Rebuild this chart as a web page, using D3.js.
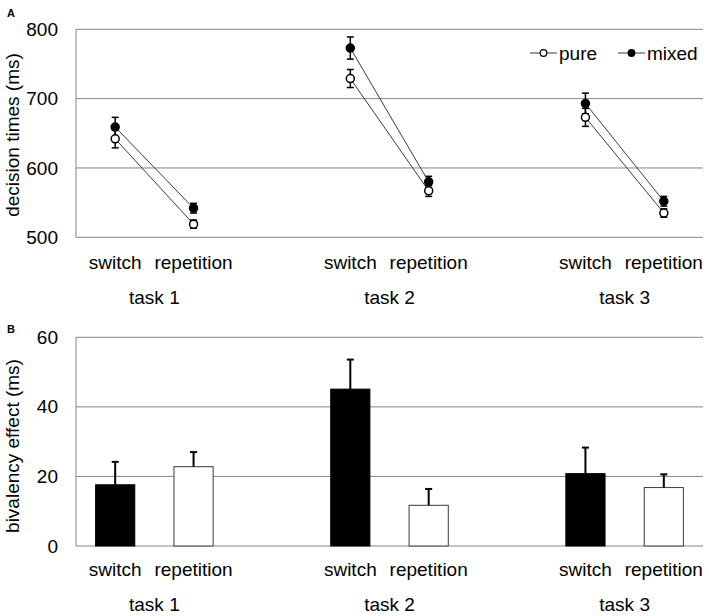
<!DOCTYPE html>
<html>
<head>
<meta charset="utf-8">
<script src="https://cdn.jsdelivr.net/npm/d3@7"></script>
<style>
  html, body { margin: 0; padding: 0; background: #fff; }
  svg { display: block; font-family: "Liberation Sans", Arial, sans-serif; }
</style>
</head>
<body>
<svg id="chart" width="709" height="616"></svg>
<script>
// ---- data ----
const tasks = ["task 1", "task 2", "task 3"];
const conditions = ["switch", "repetition"];
// order: task1 switch, task1 repetition, task2 switch, task2 repetition, task3 switch, task3 repetition
const pureRT = [642, 519, 729, 567, 673, 535];
const pureErr = [13, 6, 13, 8, 13, 6];
const mixedRT = [659, 542, 773, 580, 693, 552];
const mixedErr = [14, 7, 16, 8, 15, 7];
const bivalency = [17.6, 22.8, 45.1, 11.7, 20.8, 16.8];
const bivalencyErr = [6.6, 4.2, 8.5, 4.7, 7.5, 3.8];
const rtTicks = [500, 600, 700, 800];
const effectTicks = [0, 20, 40, 60];
const legendLabels = ["pure", "mixed"];

// ---- layout ----
const svg = d3.select("#chart");
const left = 76, right = 703;
const fontSize = 19;
const gridColor = "#858585";

// slots: each task has switch & repetition, with an empty gap slot between tasks
const slots = [];
tasks.forEach((t, ti) => {
  conditions.forEach(c => slots.push(t + "|" + c));
  if (ti < tasks.length - 1) slots.push("gap" + ti);
});
const x = d3.scaleBand().domain(slots).range([left, right]).padding(0);
const cx = (ti, ci) => x(tasks[ti] + "|" + conditions[ci]) + x.bandwidth() / 2;

const points = [];
tasks.forEach((t, ti) => conditions.forEach((c, ci) => points.push({ti, ci, i: ti * 2 + ci})));

function drawFrame(g, y, ticks, top, bottom, titleText, titleY, labelY, taskY, panelLetter, letterY) {
  // gridlines
  g.append("g").selectAll("line").data(ticks).join("line")
    .attr("x1", left).attr("x2", right)
    .attr("y1", d => y(d)).attr("y2", d => y(d))
    .attr("stroke", gridColor).attr("stroke-width", 1);
  // left axis line
  g.append("line").attr("x1", left).attr("x2", left)
    .attr("y1", top).attr("y2", bottom)
    .attr("stroke", gridColor).attr("stroke-width", 1);
  // tick labels via d3 axis
  const ax = g.append("g").attr("transform", `translate(${left},0)`)
    .call(d3.axisLeft(y).tickValues(ticks).tickSize(0).tickPadding(18));
  ax.select(".domain").remove();
  ax.selectAll("text").attr("font-size", fontSize).attr("fill", "#000")
    .attr("font-family", "Liberation Sans, Arial, sans-serif");
  // y title
  g.append("text").attr("transform", `translate(19,${titleY}) rotate(-90)`)
    .attr("text-anchor", "middle").attr("font-size", fontSize).text(titleText);
  // category labels
  g.append("g").selectAll("text").data(points).join("text")
    .attr("x", d => cx(d.ti, d.ci)).attr("y", labelY)
    .attr("text-anchor", "middle").attr("dominant-baseline", "central")
    .attr("font-size", fontSize).text(d => conditions[d.ci]);
  g.append("g").selectAll("text").data(tasks).join("text")
    .attr("x", (d, ti) => (cx(ti, 0) + cx(ti, 1)) / 2).attr("y", taskY)
    .attr("text-anchor", "middle").attr("dominant-baseline", "central")
    .attr("font-size", fontSize).text(d => d);
  // panel letter
  g.append("text").attr("x", 7).attr("y", letterY)
    .attr("font-size", 11).attr("font-weight", "bold").text(panelLetter);
}

// ---- Panel A ----
const gA = svg.append("g");
const yA = d3.scaleLinear().domain([500, 800]).range([237.3, 29.3]);
drawFrame(gA, yA, rtTicks, 29.3, 237.3, "decision times (ms)", 135, 262, 297, "A", 17);

const seriesA = [
  {name: legendLabels[0], vals: pureRT, errs: pureErr, fill: "#fff"},
  {name: legendLabels[1], vals: mixedRT, errs: mixedErr, fill: "#000"}
];
const r = 4;
seriesA.forEach(s => {
  // connecting lines per task
  tasks.forEach((t, ti) => {
    gA.append("line")
      .attr("x1", cx(ti, 0)).attr("y1", yA(s.vals[ti * 2]))
      .attr("x2", cx(ti, 1)).attr("y2", yA(s.vals[ti * 2 + 1]))
      .attr("stroke", "#3a3a3a").attr("stroke-width", 1);
  });
});
seriesA.forEach(s => {
  const eg = gA.append("g").attr("stroke", "#000").attr("stroke-width", 1.5);
  points.forEach(p => {
    const xc = cx(p.ti, p.ci);
    const y1 = yA(s.vals[p.i] + s.errs[p.i]), y2 = yA(s.vals[p.i] - s.errs[p.i]);
    eg.append("line").attr("x1", xc).attr("x2", xc).attr("y1", y1).attr("y2", y2);
    eg.append("line").attr("x1", xc - 3.5).attr("x2", xc + 3.5).attr("y1", y1).attr("y2", y1);
    eg.append("line").attr("x1", xc - 3.5).attr("x2", xc + 3.5).attr("y1", y2).attr("y2", y2);
  });
});
seriesA.forEach(s => {
  gA.append("g").selectAll("circle").data(points).join("circle")
    .attr("cx", d => cx(d.ti, d.ci)).attr("cy", d => yA(s.vals[d.i]))
    .attr("r", r).attr("fill", s.fill).attr("stroke", "#000").attr("stroke-width", 1.5);
});

// legend
const legendPos = [{x1: 530, x2: 557, tx: 559}, {x1: 618, x2: 645, tx: 647}];
seriesA.forEach((s, k) => {
  const lp = legendPos[k], ly = 53;
  gA.append("line").attr("x1", lp.x1).attr("x2", lp.x2).attr("y1", ly).attr("y2", ly)
    .attr("stroke", "#3a3a3a").attr("stroke-width", 1);
  gA.append("circle").attr("cx", (lp.x1 + lp.x2) / 2).attr("cy", ly).attr("r", 3.3)
    .attr("fill", s.fill).attr("stroke", "#000").attr("stroke-width", 1.2);
  gA.append("text").attr("x", lp.tx).attr("y", ly).attr("dominant-baseline", "central")
    .attr("font-size", fontSize).text(s.name);
});

// ---- Panel B ----
const gB = svg.append("g");
const yB = d3.scaleLinear().domain([0, 60]).range([546, 337.3]);
drawFrame(gB, yB, effectTicks, 337.3, 546, "bivalency effect (ms)", 446, 569, 604, "B", 333);

const bw = x.bandwidth() * 0.5;
gB.append("g").selectAll("rect").data(points).join("rect")
  .attr("x", d => cx(d.ti, d.ci) - bw / 2)
  .attr("y", d => yB(bivalency[d.i]))
  .attr("width", bw)
  .attr("height", d => yB(0) - yB(bivalency[d.i]))
  .attr("fill", d => d.ci === 0 ? "#000" : "#fff")
  .attr("stroke", d => d.ci === 0 ? "#000" : "#3a3a3a")
  .attr("stroke-width", 1);
const ebB = gB.append("g").attr("stroke", "#000").attr("stroke-width", 2);
points.forEach(p => {
  const xc = cx(p.ti, p.ci);
  const y0 = yB(bivalency[p.i]), y1 = yB(bivalency[p.i] + bivalencyErr[p.i]);
  ebB.append("line").attr("x1", xc).attr("x2", xc).attr("y1", y0).attr("y2", y1);
  ebB.append("line").attr("x1", xc - 3.5).attr("x2", xc + 3.5).attr("y1", y1).attr("y2", y1);
});
</script>
</body>
</html>
